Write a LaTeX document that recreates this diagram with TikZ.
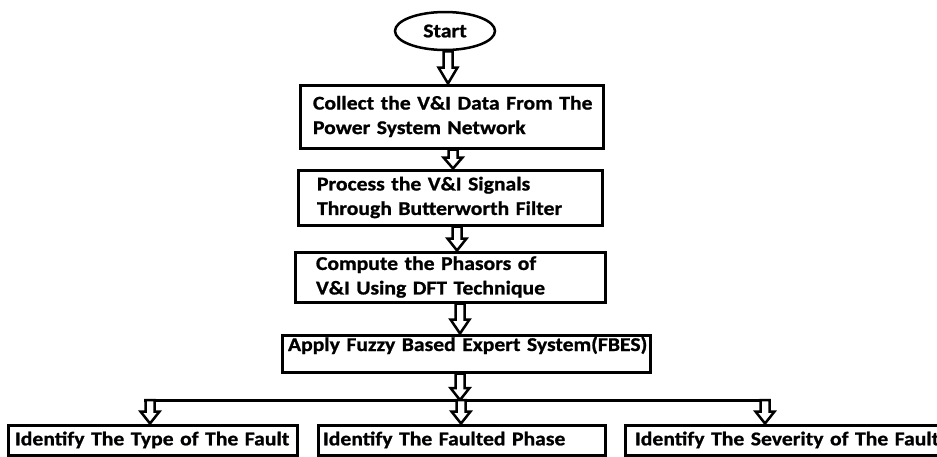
\documentclass[tikz,border=0pt]{standalone}
\usepackage{fontspec}
\setmainfont{Carlito}[FakeStretch=1.11, BoldFeatures={FakeBold=1}]
\usetikzlibrary{shapes.geometric,calc}
\tikzset{
  box/.style={draw=black, line width=3pt, rectangle, align=left, inner ysep=0pt,
    font=\bfseries\fontsize{19.5}{24.5}\selectfont},
  startnode/.style={draw=black, line width=2.5pt, ellipse, minimum width=100pt, minimum height=38pt,
    inner sep=0pt, font=\bfseries\fontsize{19.5}{24.5}\selectfont},
  harrowline/.style={draw=black, fill=white, line width=2.5pt, line join=miter},
  busline/.style={draw=black, line width=3pt}
}
% hollow block arrow: start point #1 (its x is used), end point #2 (its y is used), head length #3
\newcommand\harrow[3]{%
  \path[harrowline] let \p1=(#1), \p2=(#2) in
    ({\x1-4.5pt},\y1) -- ({\x1+4.5pt},\y1) -- ({\x1+4.5pt},{\y2+#3}) -- ({\x1+9.5pt},{\y2+#3})
    -- (\x1,\y2) -- ({\x1-9.5pt},{\y2+#3}) -- ({\x1-4.5pt},{\y2+#3}) -- cycle;}
\begin{document}
\begin{tikzpicture}[x=1pt,y=-1pt]
\useasboundingbox (0,0) rectangle (937,456);
\clip (0,0) rectangle (937,456);
\fill[white] (0,0) rectangle (937,456);

\node[startnode] (start) at (445,31) {Start};

\node[box, minimum height=63pt, inner xsep=13pt, text width=277pt] (b1) at (451.5,116.5)
  {\mbox{Collect the V\&I Data From The}\\\mbox{Power System Network}};
\node[box, minimum height=55pt, inner xsep=19pt, text width=266pt] (b2) at (450,197.5)
  {\mbox{Process the V\&I Signals}\\\mbox{Through Butterworth Filter}};
\node[box, minimum height=50pt, inner xsep=21pt, text width=268pt] (b3) at (450,277)
  {\mbox{Compute the Phasors of}\\\mbox{V\&I Using DFT Technique}};
\node[box, inner xsep=6pt, text width=356pt, text height=16pt, text depth=21pt] (b4) at (466,353.5)
  {\mbox{Apply Fuzzy Based Expert System(FBES)}};

\node[box, minimum height=30pt, inner xsep=7pt, text width=275pt] (b5) at (152.5,440)
  {\mbox{Identify The Type of The Fault}};
\node[box, minimum height=30pt, inner xsep=5pt, text width=277pt] (b6) at (461.5,440)
  {\mbox{Identify The Faulted Phase}};
\node[box, minimum height=30pt, inner xsep=10pt, text width=320pt] (b7) at (795,440)
  {\mbox{Identify The Severity of The Fault}};

\coordinate (split) at (460,400);
\coordinate (s5) at (150,400);
\coordinate (s6) at (461,400);
\coordinate (s7) at (765,400);

\draw[busline] ([xshift=-6pt]s5) -- ([xshift=6pt]s7);

\harrow{[xshift=3pt]start.south}{b1.north}{16pt}
\harrow{[xshift=1.5pt]b1.south}{b2.north}{11pt}
\harrow{[xshift=7pt]b2.south}{b3.north}{12pt}
\harrow{[xshift=10pt]b3.south}{b4.north}{14pt}
\harrow{[xshift=-6pt]b4.south}{split}{12pt}
\harrow{s5}{b5.north}{12pt}
\harrow{s6}{b6.north}{12pt}
\harrow{s7}{b7.north}{12pt}
\end{tikzpicture}
\end{document}
